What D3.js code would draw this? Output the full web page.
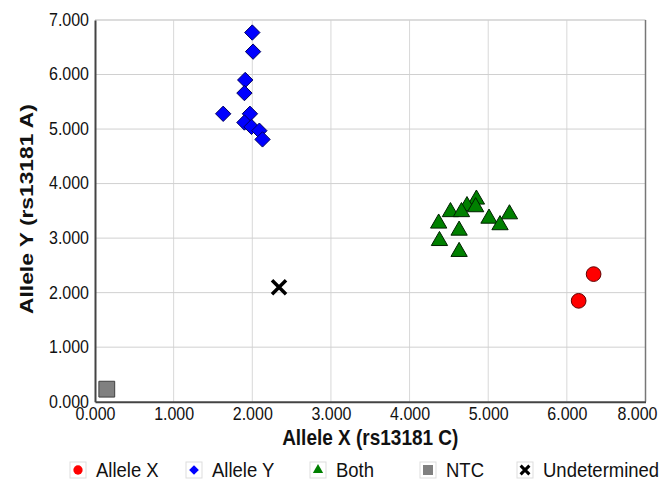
<!DOCTYPE html>
<html>
<head>
<meta charset="utf-8">
<script src="https://cdn.jsdelivr.net/npm/d3@7"></script>
<style>
  body { margin: 0; background: #fff; }
  svg { display: block; font-family: "Liberation Sans", Arial, sans-serif; }
</style>
</head>
<body>
<div id="chart"></div>
<script>
// tick values and the labels printed under them (the last one reads 8.000 in the original)
const xTicks = [0, 1, 2, 3, 4, 5, 6, 7];
const xTickLabels = ['0.000', '1.000', '2.000', '3.000', '4.000', '5.000', '6.000', '8.000'];
const yTicks = [0, 1, 2, 3, 4, 5, 6, 7];
const yTickLabels = ['0.000', '1.000', '2.000', '3.000', '4.000', '5.000', '6.000', '7.000'];

const categories = ['Allele X', 'Allele Y', 'Both', 'NTC', 'Undetermined'];

// [x, y] pairs per call group
const alleleX = [[6.34, 2.34], [6.15, 1.85]];
const alleleY = [
  [2.00, 6.77], [2.01, 6.42], [1.91, 5.90], [1.90, 5.66], [1.63, 5.28],
  [1.97, 5.28], [1.90, 5.12], [1.99, 5.04], [2.09, 4.97], [2.13, 4.81]
];
const both = [
  [4.85, 3.71], [4.73, 3.59], [4.84, 3.57], [4.52, 3.48], [4.66, 3.48],
  [5.01, 3.36], [5.27, 3.44], [5.15, 3.24], [4.37, 3.27], [4.63, 3.14],
  [4.38, 2.95], [4.63, 2.75]
];
const ntc = [[0.15, 0.23]];
const undetermined = [[2.34, 2.10]];

const width = 662;
const height = 479;
const margin = { top: 20, right: 16.5, bottom: 77.3, left: 95 };
const innerWidth = width - margin.left - margin.right;
const innerHeight = height - margin.top - margin.bottom;
// the source picture is a little stretched vertically, text included
const stretch = 1.2;

const svg = d3.select('#chart')
  .append('svg')
  .attr('width', width)
  .attr('height', height);

const g = svg.append('g')
  .attr('transform', `translate(${margin.left},${margin.top})`);

const xScale = d3.scaleLinear().domain([0, 7]).range([0, innerWidth]);
const yScale = d3.scaleLinear().domain([0, 7]).range([innerHeight, 0]);

// grid
g.append('g')
  .selectAll('line')
  .data(xTicks.slice(1, -1))
  .enter()
  .append('line')
  .attr('x1', d => xScale(d)).attr('x2', d => xScale(d))
  .attr('y1', 0).attr('y2', innerHeight)
  .attr('stroke', '#d8d8d8');

g.append('g')
  .selectAll('line')
  .data(yTicks.slice(1))
  .enter()
  .append('line')
  .attr('x1', 0).attr('x2', innerWidth)
  .attr('y1', d => yScale(d)).attr('y2', d => yScale(d))
  .attr('stroke', '#d0d0d0')
  .attr('stroke-width', d => d === 7 ? 1.5 : 1);

// right border
g.append('line')
  .attr('x1', innerWidth).attr('x2', innerWidth)
  .attr('y1', 0).attr('y2', innerHeight)
  .attr('stroke', '#777')
  .attr('stroke-width', 1.5);

// axes
const xAxis = g.append('g')
  .attr('transform', `translate(0,${innerHeight})`)
  .call(d3.axisBottom(xScale).tickValues(xTicks).tickSize(0).tickPadding(3.5)
    .tickFormat((d, i) => xTickLabels[i]));
xAxis.select('.domain').attr('stroke', '#444').attr('stroke-width', 2);
xAxis.selectAll('text')
  .attr('font-size', '16px').attr('fill', '#111')
  .attr('font-family', '"Liberation Sans", Arial, sans-serif')
  .attr('transform', `scale(1,${stretch})`);
// last label is pulled in so it stays inside the frame
xAxis.selectAll('.tick:last-of-type text')
  .attr('text-anchor', 'end')
  .attr('x', 11.5);

const yAxis = g.append('g')
  .call(d3.axisLeft(yScale).tickValues(yTicks).tickSize(0).tickPadding(6)
    .tickFormat((d, i) => yTickLabels[i]));
yAxis.select('.domain').attr('stroke', '#444').attr('stroke-width', 2);
yAxis.selectAll('text')
  .attr('font-size', '16px').attr('fill', '#111')
  .attr('font-family', '"Liberation Sans", Arial, sans-serif')
  .attr('dy', '0.28em')
  .attr('transform', `scale(1,${stretch})`);

// axis titles
svg.append('text')
  .attr('transform', `translate(${margin.left + innerWidth / 2},445) scale(1,${stretch})`)
  .attr('text-anchor', 'middle')
  .attr('font-size', '19px')
  .attr('font-weight', 'bold')
  .attr('fill', '#111')
  .text('Allele X (rs13181 C)');

svg.append('text')
  .attr('transform', `translate(33,209) rotate(-90) scale(${stretch},1)`)
  .attr('text-anchor', 'middle')
  .attr('font-size', '19px')
  .attr('font-weight', 'bold')
  .attr('fill', '#111')
  .text('Allele Y (rs13181 A)');

// marker shapes
const symbols = {
  'Allele X': { type: d3.symbolCircle, size: 170, fill: '#ff0000', stroke: '#600000' },
  'Allele Y': { type: d3.symbolDiamond2, size: 150, fill: '#0000ff', stroke: '#000060' },
  'Both': { type: d3.symbolTriangle, size: 115, fill: '#008000', stroke: '#002000' },
  'NTC': { type: d3.symbolSquare, size: 250, fill: '#808080', stroke: '#404040' },
  'Undetermined': { type: d3.symbolX, size: 130, fill: 'none', stroke: '#000' }
};
const seriesData = {
  'Allele X': alleleX,
  'Allele Y': alleleY,
  'Both': both,
  'NTC': ntc,
  'Undetermined': undetermined
};

const drawOrder = ['NTC', 'Undetermined', 'Allele X', 'Both', 'Allele Y'];
drawOrder.forEach(cat => {
  const s = symbols[cat];
  g.append('g')
    .selectAll('path')
    .data(seriesData[cat])
    .enter()
    .append('path')
    .attr('transform', d => `translate(${xScale(d[0])},${yScale(d[1])})`)
    .attr('d', d3.symbol().type(s.type).size(s.size))
    .attr('fill', s.fill)
    .attr('stroke', s.stroke)
    .attr('stroke-width', cat === 'Undetermined' ? 3.5 : 1);
});

// legend
const legendX = [78, 194, 318, 428, 525];
const legend = svg.append('g');
categories.forEach((cat, i) => {
  const s = symbols[cat];
  const item = legend.append('g').attr('transform', `translate(${legendX[i]},470)`);
  item.append('rect')
    .attr('x', -8).attr('y', -8).attr('width', 16).attr('height', 16)
    .attr('fill', '#fff').attr('stroke', '#ddd');
  item.append('path')
    .attr('d', d3.symbol().type(s.type).size(s.size * 0.4))
    .attr('fill', s.fill)
    .attr('stroke', cat === 'Undetermined' ? s.stroke : 'none')
    .attr('stroke-width', cat === 'Undetermined' ? 3 : 0);
  item.append('text')
    .attr('transform', `translate(18,7) scale(1,1.1)`)
    .attr('font-size', '18.5px')
    .attr('fill', '#111')
    .text(cat);
});
</script>
</body>
</html>
